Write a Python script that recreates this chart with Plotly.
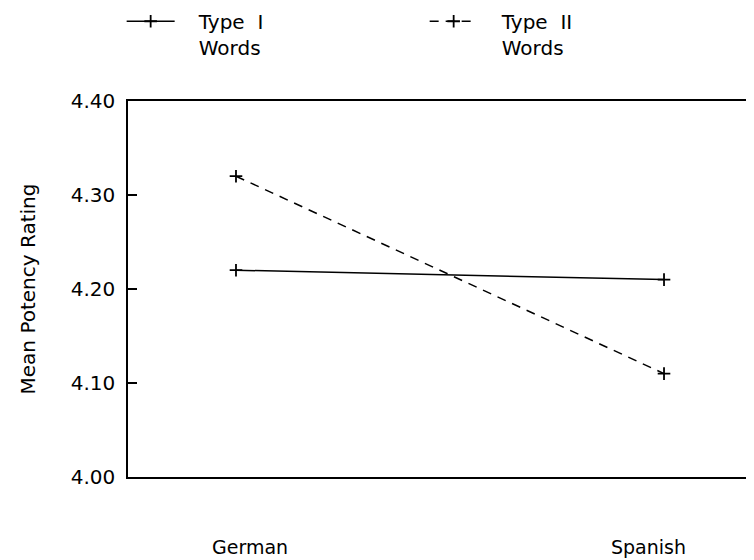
import plotly.graph_objects as go

# ---- data ----
languages = ["German", "Spanish"]
type1_words = [4.22, 4.21]
type2_words = [4.32, 4.11]
series_names = ["Type\u00a0 I<br>Words", "Type\u00a0 II<br>Words"]
y_ticks = [4.00, 4.10, 4.20, 4.30, 4.40]
y_tick_labels = ["4.00", "4.10", "4.20", "4.30", "4.40"]
y_title = "Mean Potency Rating"

FONT = "DejaVu Sans"
INK = "black"
PAD = "\u00a0\u00a0\u00a0"

fig = go.Figure()
fig.add_trace(go.Scatter(
    x=languages, y=type1_words, mode="lines+markers",
    name="<br>".join(PAD + part for part in series_names[0].split("<br>")),
    line=dict(color=INK, width=1.5),
    marker=dict(symbol="cross-thin", size=9, color=INK, line=dict(color=INK, width=1.8)),
))
fig.add_trace(go.Scatter(
    x=languages, y=type2_words, mode="lines+markers",
    name="<br>".join(PAD + part for part in series_names[1].split("<br>")),
    line=dict(color=INK, width=1.5, dash="9px,7px"),
    marker=dict(symbol="cross-thin", size=9, color=INK, line=dict(color=INK, width=1.8)),
))

label_shift = [14, -16]
for lang, dx in zip(languages, label_shift):
    fig.add_annotation(x=lang, y=0, xref="x", yref="paper", text=lang, showarrow=False,
                       xanchor="center", yanchor="middle", xshift=dx, yshift=-70,
                       font=dict(family=FONT, size=19, color=INK))

fig.update_layout(
    width=754, height=560,
    margin=dict(l=120, r=0, t=93, b=91, autoexpand=False),
    paper_bgcolor="white", plot_bgcolor="white",
    font=dict(family=FONT, size=19, color=INK),
    showlegend=True,
    legend=dict(orientation="h", x=-0.01, xanchor="left", y=1.264, yanchor="top",
                entrywidth=240, entrywidthmode="pixels", itemwidth=48, valign="top",
                bgcolor="rgba(0,0,0,0)", borderwidth=0,
                font=dict(family=FONT, size=20, color=INK)),
)
fig.update_xaxes(type="category", range=[-0.2523, 1.2289], showline=True, linecolor=INK,
                 linewidth=1.5, mirror=True, ticks="", showticklabels=False,
                 showgrid=False, zeroline=False)
fig.update_yaxes(range=[4.0, 4.4], tickvals=y_ticks, ticktext=y_tick_labels,
                 ticks="inside", ticklen=9, tickwidth=1.5, tickcolor=INK,
                 ticklabelstandoff=7,
                 showline=True, linecolor=INK, linewidth=1.5, showgrid=False, zeroline=False,
                 tickfont=dict(family=FONT, size=20, color=INK),
                 title=dict(text=y_title, standoff=30, font=dict(family=FONT, size=20, color=INK)))

fig.write_html("out.html")
